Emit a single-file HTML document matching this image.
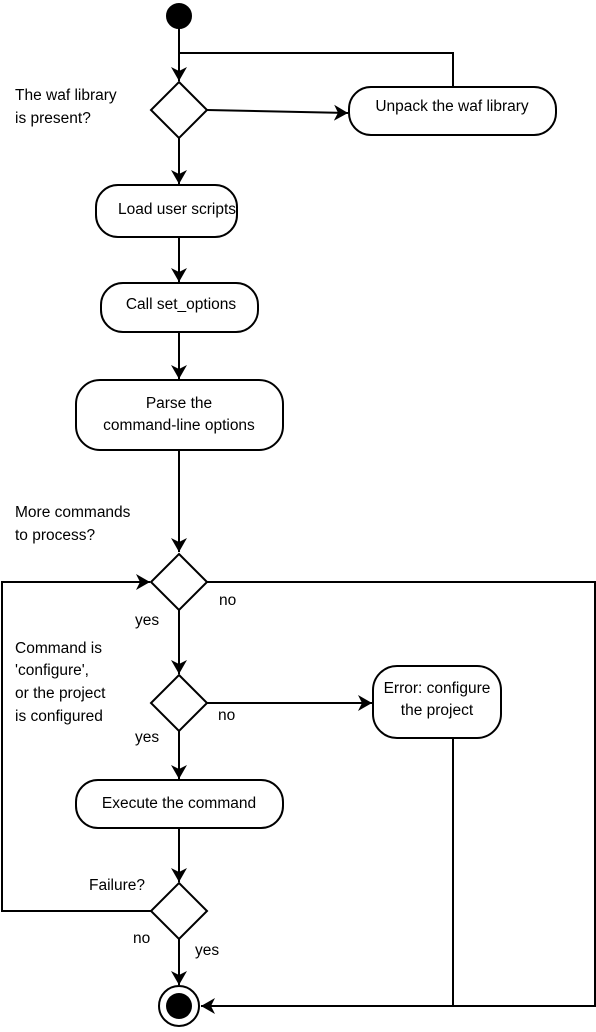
<!DOCTYPE html>
<html><head><style>body{margin:0;background:#fff}svg{display:block}text{font-family:"Liberation Sans",sans-serif;font-size:15.5px;fill:#000}</style></head>
<body>
<svg width="596" height="1032" viewBox="0 0 596 1032">
<defs><marker id="a" markerWidth="14" markerHeight="16" refX="14" refY="8" orient="auto" markerUnits="userSpaceOnUse"><path d="M0,0 L14,8 L0,16 L4,8 z" fill="#000"/></marker></defs>
<g stroke="#000" stroke-width="2" fill="none">
<circle cx="179" cy="16" r="12" fill="#000"/>
<line x1="179" y1="28" x2="179" y2="81" marker-end="url(#a)"/>
<polyline points="453,87 453,53 179,53"/>
<polygon points="179,82 207,110 179,138 151,110" fill="#fff"/>
<line x1="207" y1="110" x2="348" y2="113" marker-end="url(#a)"/>
<rect x="349" y="87" width="207" height="48" rx="22" fill="#fff"/>
<line x1="179" y1="138" x2="179" y2="184" marker-end="url(#a)"/>
<rect x="96" y="185" width="141" height="52" rx="22" fill="#fff"/>
<line x1="179" y1="237" x2="179" y2="282" marker-end="url(#a)"/>
<rect x="101" y="283" width="157" height="49" rx="22" fill="#fff"/>
<line x1="179" y1="332" x2="179" y2="379" marker-end="url(#a)"/>
<rect x="76" y="380" width="207" height="70" rx="24" fill="#fff"/>
<line x1="179" y1="450" x2="179" y2="552" marker-end="url(#a)"/>
<polygon points="179,554 207,582 179,610 151,582" fill="#fff"/>
<polyline points="207,582 595,582 595,1006 201,1006" marker-end="url(#a)"/>
<polyline points="151,911 2,911 2,582 150,582" marker-end="url(#a)"/>
<line x1="179" y1="610" x2="179" y2="674" marker-end="url(#a)"/>
<polygon points="179,675 207,703 179,731 151,703" fill="#fff"/>
<line x1="207" y1="703" x2="372" y2="703" marker-end="url(#a)"/>
<rect x="373" y="666" width="128" height="72" rx="24" fill="#fff"/>
<line x1="453" y1="738" x2="453" y2="1006"/>
<line x1="179" y1="731" x2="179" y2="779" marker-end="url(#a)"/>
<rect x="76" y="780" width="207" height="48" rx="22" fill="#fff"/>
<line x1="179" y1="828" x2="179" y2="882" marker-end="url(#a)"/>
<polygon points="179,883 207,911 179,939 151,911" fill="#fff"/>
<line x1="179" y1="939" x2="179" y2="985" marker-end="url(#a)"/>
<circle cx="179" cy="1006" r="20" fill="#fff"/>
<circle cx="179" cy="1006" r="13" fill="#000" stroke="none"/>
</g>
<text x="15" y="100">The waf library</text>
<text x="15" y="123">is present?</text>
<text x="452" y="111" text-anchor="middle">Unpack the waf library</text>
<text x="177" y="214" text-anchor="middle">Load user scripts</text>
<text x="181" y="309" text-anchor="middle">Call set_options</text>
<text x="179" y="408" text-anchor="middle">Parse the</text>
<text x="179" y="430" text-anchor="middle">command-line options</text>
<text x="15" y="517">More commands</text>
<text x="15" y="540">to process?</text>
<text x="219" y="605">no</text>
<text x="135" y="625">yes</text>
<text x="15" y="653">Command is</text>
<text x="15" y="675">'configure',</text>
<text x="15" y="698">or the project</text>
<text x="15" y="721">is configured</text>
<text x="218" y="720">no</text>
<text x="135" y="742">yes</text>
<text x="437" y="693" text-anchor="middle">Error: configure</text>
<text x="437" y="715" text-anchor="middle">the project</text>
<text x="179" y="808" text-anchor="middle">Execute the command</text>
<text x="89" y="890">Failure?</text>
<text x="133" y="943">no</text>
<text x="195" y="955">yes</text>
</svg>
</body></html>
